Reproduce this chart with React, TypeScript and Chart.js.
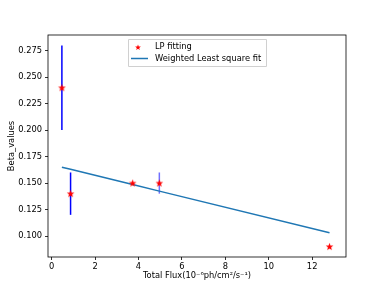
import React, { useEffect, useRef } from "react";
import { Chart, registerables } from "chart.js";

Chart.register(...registerables);

const fluxX = [0.47, 0.87, 3.73, 4.96, 12.8];
const betaY = [0.24, 0.14, 0.15, 0.15, 0.09];
const errLow = [0.2, 0.12, 0.15, 0.14, 0.09];
const errHigh = [0.28, 0.16, 0.15, 0.16, 0.09];
const errColors = ["#0000ff", "#0000ff", "#0000ff", "#7070ff", "#0000ff"];
const fitY = [0.165, 0.163, 0.1486, 0.1424, 0.103];
const yTicks = [0.1, 0.125, 0.15, 0.175, 0.2, 0.225, 0.25, 0.275];
const xTicks = [0, 2, 4, 6, 8, 10, 12];
const legendLabels = ["LP fitting", "Weighted Least square fit"];
const xTitle = "Total Flux(10\u207B\u2076ph/cm\u00B2/s\u207B\u00B9)";
const yTitle = "Beta_values";

const FONT = "DejaVu Sans";

function drawStar(ctx: CanvasRenderingContext2D, cx: number, cy: number, r: number) {
  ctx.beginPath();
  for (let i = 0; i < 10; i++) {
    const rad = i % 2 === 0 ? r : r * 0.42;
    const a = -Math.PI / 2 + (i * Math.PI) / 5;
    const px = cx + rad * Math.cos(a);
    const py = cy + rad * Math.sin(a);
    if (i === 0) ctx.moveTo(px, py);
    else ctx.lineTo(px, py);
  }
  ctx.closePath();
  ctx.fillStyle = "#ff0000";
  ctx.fill();
}

function makeStarCanvas(): HTMLCanvasElement {
  const c = document.createElement("canvas");
  c.width = 9;
  c.height = 9;
  const ctx = c.getContext("2d")!;
  drawStar(ctx, 4.5, 4.8, 4);
  return c;
}

export default function App() {
  const ref = useRef<HTMLCanvasElement | null>(null);

  useEffect(() => {
    document.body.style.margin = "0";
    const canvas = ref.current!;
    const star = makeStarCanvas();

    const overlay = {
      id: "overlay",
      beforeDatasetsDraw(chart: any) {
        const { ctx, scales } = chart;
        const xs = scales.x;
        const ys = scales.y;
        ctx.save();
        fluxX.forEach((xv, i) => {
          if (errHigh[i] === errLow[i]) return;
          const px = xs.getPixelForValue(xv);
          ctx.strokeStyle = errColors[i];
          ctx.lineWidth = 1.5;
          ctx.beginPath();
          ctx.moveTo(px, ys.getPixelForValue(errLow[i]));
          ctx.lineTo(px, ys.getPixelForValue(errHigh[i]));
          ctx.stroke();
        });
        ctx.restore();
      },
      afterDraw(chart: any) {
        const { ctx, chartArea } = chart;
        ctx.save();
        ctx.strokeStyle = "#000";
        ctx.lineWidth = 0.8;
        ctx.strokeRect(chartArea.left, chartArea.top, chartArea.right - chartArea.left, chartArea.bottom - chartArea.top);

        // axis titles
        ctx.fillStyle = "#000";
        ctx.font = `8.3px ${FONT}`;
        ctx.textAlign = "center";
        ctx.textBaseline = "middle";
        ctx.fillText(xTitle, (chartArea.left + chartArea.right) / 2, 276);
        ctx.save();
        ctx.translate(12, (chartArea.top + chartArea.bottom) / 2);
        ctx.rotate(-Math.PI / 2);
        ctx.fillText(yTitle, 0, 0);
        ctx.restore();

        // legend
        const lx = 128, ly = 39, lw = 138, lh = 27;
        ctx.fillStyle = "rgba(255,255,255,0.8)";
        ctx.strokeStyle = "#d0d0d0";
        ctx.lineWidth = 1;
        ctx.beginPath();
        ctx.rect(lx + 0.5, ly + 0.5, lw, lh);
        ctx.fill();
        ctx.stroke();
        drawStar(ctx, 138, 47.5, 3);
        ctx.strokeStyle = "#1f77b4";
        ctx.lineWidth = 1.5;
        ctx.beginPath();
        ctx.moveTo(131, 58.5);
        ctx.lineTo(148, 58.5);
        ctx.stroke();
        ctx.fillStyle = "#000";
        ctx.textAlign = "left";
        ctx.font = `8.3px ${FONT}`;
        ctx.fillText(legendLabels[0], 155, 47);
        ctx.fillText(legendLabels[1], 155, 59);
        ctx.restore();
      },
    };

    const chart = new Chart(canvas, {
      type: "scatter",
      data: {
        datasets: [
          {
            label: legendLabels[0],
            data: fluxX.map((x, i) => ({ x, y: betaY[i] })),
            pointStyle: star as any,
            pointRadius: 4,
            showLine: false,
            order: 0,
          },
          {
            label: legendLabels[1],
            data: fluxX.map((x, i) => ({ x, y: fitY[i] })),
            showLine: true,
            borderColor: "#1f77b4",
            borderWidth: 1.5,
            pointRadius: 0,
            order: 1,
          },
        ],
      },
      plugins: [overlay],
      options: {
        animation: false,
        responsive: false,
        events: [],
        layout: { padding: { left: 0, right: 38, top: 35, bottom: 0 } },
        plugins: { legend: { display: false }, tooltip: { enabled: false } },
        scales: {
          x: {
            type: "linear",
            min: -0.17,
            max: 13.56,
            afterFit: (s: any) => { s.height = 31; },
            afterBuildTicks: (s: any) => { s.ticks = xTicks.map((v) => ({ value: v })); },
            grid: { display: true, drawOnChartArea: false, tickLength: 3, color: "#000", tickWidth: 0.8 },
            border: { display: false },
            ticks: { color: "#000", font: { family: FONT, size: 8.3 }, padding: 2, maxRotation: 0, autoSkip: false },
          },
          y: {
            type: "linear",
            min: 0.0802,
            max: 0.2898,
            afterFit: (s: any) => { s.width = 48; },
            afterBuildTicks: (s: any) => { s.ticks = yTicks.map((v) => ({ value: v })); },
            grid: { display: true, drawOnChartArea: false, tickLength: 3, color: "#000", tickWidth: 0.8 },
            border: { display: false },
            ticks: {
              color: "#000",
              font: { family: FONT, size: 8.3 },
              padding: 3,
              autoSkip: false,
              callback: (v: any) => Number(v).toFixed(3),
            },
          },
        },
      },
    });
    return () => chart.destroy();
  }, []);

  return <canvas ref={ref} width={384} height={288} style={{ display: "block" }} />;
}
